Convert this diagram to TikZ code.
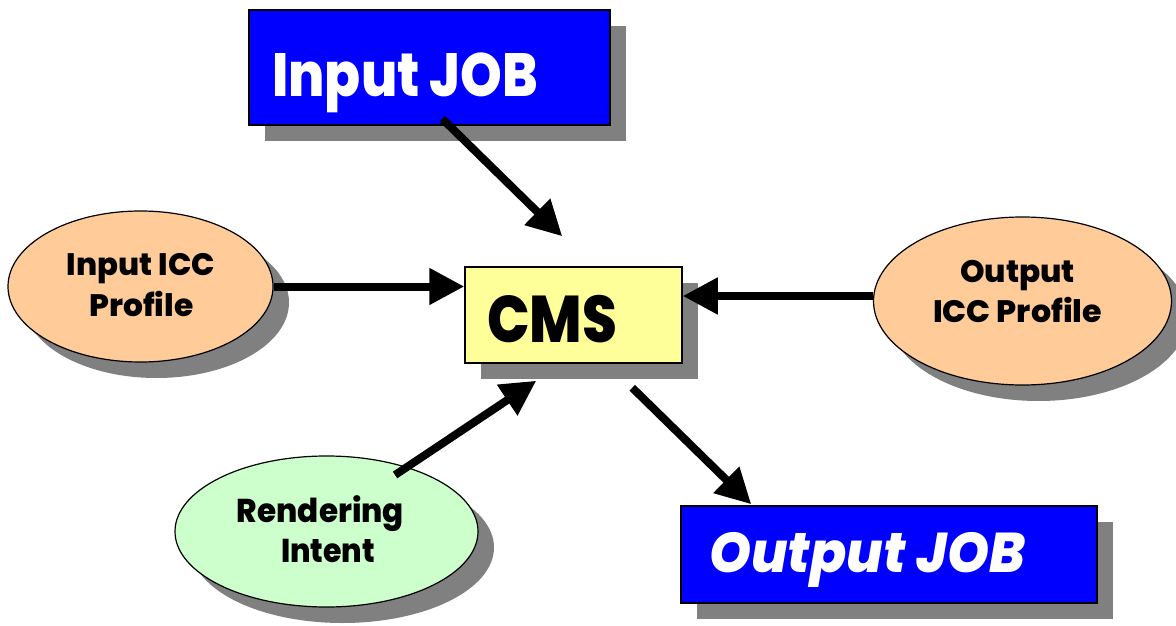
\documentclass[tikz,border=0pt]{standalone}
\usepackage{fontspec}
\setmainfont{Poppins}[BoldFont={Poppins ExtraBold},BoldItalicFont={Poppins ExtraBold Italic}]
\usetikzlibrary{arrows.meta,shapes.geometric,shadows,calc}
\definecolor{jobblue}{HTML}{0000FF}
\definecolor{cmsyellow}{HTML}{FFFF99}
\definecolor{iccpeach}{HTML}{FFCC99}
\definecolor{intentgreen}{HTML}{CCFFCC}
\definecolor{shadowgray}{HTML}{808080}
\newcommand\fitw[2]{\resizebox{#1}{\height}{#2}}
\begin{document}
\begin{tikzpicture}[x=1pt,y=-1pt,
  shadowed/.style={drop shadow={shadow xshift=16pt,shadow yshift=-16pt,fill=shadowgray,opacity=1}},
  boxnode/.style={rectangle,draw=black,line width=1.5pt,inner sep=0pt,shadowed},
  ellnode/.style={ellipse,draw=black,line width=1.2pt,inner sep=0pt,fill=iccpeach,shadowed},
  lbl/.style={inner sep=0pt,font=\bfseries},
  arr/.style={line width=8pt,-{Triangle[length=35pt,width=35pt]}}]
\path[use as bounding box,clip] (0,0) rectangle (1176,626);

% nodes
\node[boxnode,fill=jobblue,minimum width=361pt,minimum height=115pt] (injob) at (429.5,67.5) {};
\node[boxnode,fill=cmsyellow,minimum width=217pt,minimum height=96pt] (cms) at (573.5,315) {};
\node[boxnode,fill=jobblue,minimum width=416pt,minimum height=97pt] (outjob) at (889,554.5) {};
\node[ellnode,minimum width=265pt,minimum height=151pt] (inicc) at (140.5,286.5) {};
\node[ellnode,minimum width=298pt,minimum height=168pt] (outicc) at (1022.5,301) {};
\node[ellnode,fill=intentgreen,minimum width=303pt,minimum height=151pt] (rend) at (326.5,531.5) {};

% labels
\node[lbl,text=white,anchor=base west,font=\bfseries\fontsize{61}{61}\selectfont] (injobtxt) at (272,96) {\fitw{266pt}{Input JOB}};
\node[lbl,anchor=base west,font=\bfseries\fontsize{66}{66}\selectfont] (cmstxt) at (487,342) {\fitw{130pt}{CMS}};
\node[lbl,text=white,anchor=base west,font=\bfseries\itshape\fontsize{56}{56}\selectfont] (outjobtxt) at (709,572) {\fitw{316pt}{Output JOB}};
\node[lbl,anchor=base,font=\bfseries\fontsize{31}{31}\selectfont] (inicca) at (141,275) {\fitw{148pt}{Input ICC}};
\node[lbl,anchor=base,font=\bfseries\fontsize{31}{31}\selectfont] (iniccb) at (141.3,316.7) {\fitw{104pt}{Profile}};
\node[lbl,anchor=base,font=\bfseries\fontsize{31}{31}\selectfont] (outicca) at (1017.5,282) {\fitw{115pt}{Output}};
\node[lbl,anchor=base,font=\bfseries\fontsize{31}{31}\selectfont] (outiccb) at (1017.5,322) {\fitw{169pt}{ICC Profile}};
\node[lbl,anchor=base,font=\bfseries\fontsize{33}{33}\selectfont] (renda) at (320.5,522) {\fitw{167pt}{Rendering}};
\node[lbl,anchor=base,font=\bfseries\fontsize{33}{33}\selectfont] (rendb) at (328,562) {\fitw{94pt}{Intent}};

% connectors
\draw[arr] ([xshift=194pt,yshift=7pt]injob.south west) -- ([xshift=98pt,yshift=30pt]cms.north west);
\draw[arr] (inicc.east) -- (inicc.east -| cms.west);
\draw[arr] ([yshift=5pt]outicc.west) -- ([yshift=5pt]outicc.west -| cms.east);
\draw[arr] ([xshift=68.5pt,yshift=56.5pt]rend.center) -- ([xshift=72pt,yshift=-17pt]cms.south west);
\draw[arr] ([xshift=168pt,yshift=-24pt]cms.south west) -- ([xshift=71pt,yshift=1pt]outjob.north west);
\end{tikzpicture}
\end{document}
